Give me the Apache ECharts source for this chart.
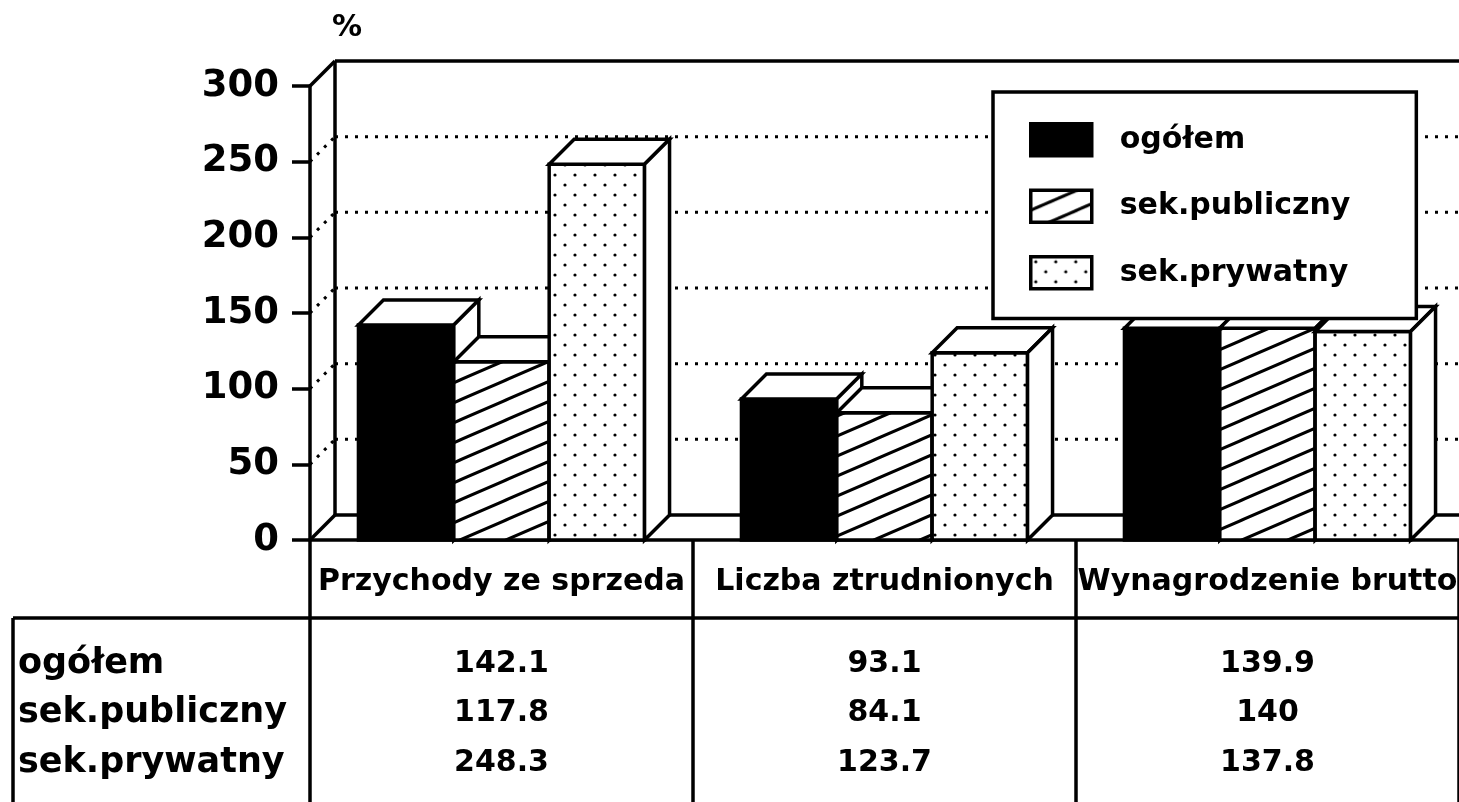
<!DOCTYPE html>
<html>
<head>
<meta charset="utf-8">
<script src="https://cdn.jsdelivr.net/npm/echarts@6/dist/echarts.min.js"></script>
<style>
html,body{margin:0;padding:0;background:#fff;}
#main{width:1459px;height:802px;}
</style>
</head>
<body>
<div id="main"></div>
<script>
// dane
var categories = ['Przychody ze sprzeda', 'Liczba ztrudnionych', 'Wynagrodzenie brutto'];
var seriesNames = ['ogółem', 'sek.publiczny', 'sek.prywatny'];
var ogolem = [142.1, 93.1, 139.9];
var publiczny = [117.8, 84.1, 140];
var prywatny = [248.3, 123.7, 137.8];
var yTicks = [0, 50, 100, 150, 200, 250, 300];

var rows = [ogolem, publiczny, prywatny];
var FONT = 'DejaVu Sans';
var DX = 25, DY = 25; // glebokosc 3D
var LW = 3.5;

function hatchCanvas(){
	var c = document.createElement('canvas');
	c.width = 46; c.height = 20;
	var g = c.getContext('2d');
	g.fillStyle = '#fff';
	g.fillRect(0, 0, 46, 20);
	g.strokeStyle = '#000';
	g.lineWidth = 3;
	for (var n = -1; n <= 1; n++) {
		g.beginPath();
		g.moveTo(-10, 20 + 20 * n + 10 * 20 / 46);
		g.lineTo(56, 20 * n - 10 * 20 / 46);
		g.stroke();
	}
	return c;
}
function dotCanvas(){
	var c = document.createElement('canvas');
	c.width = 20; c.height = 20;
	var g = c.getContext('2d');
	g.fillStyle = '#fff';
	g.fillRect(0, 0, 20, 20);
	g.fillStyle = '#000';
	g.beginPath(); g.arc(5, 5, 1.6, 0, Math.PI * 2); g.fill();
	g.beginPath(); g.arc(15, 15, 1.6, 0, Math.PI * 2); g.fill();
	return c;
}
var fills = [
	'#000',
	{type: 'pattern', image: hatchCanvas(), repeat: 'repeat'},
	{type: 'pattern', image: dotCanvas(), repeat: 'repeat'}
];

var chart = echarts.init(document.getElementById('main'));

// sciany, siatka i linie tabeli
function renderFrame(params, api){
	var v = api.value(1);
	var cs = params.coordSys;
	var x0 = cs.x, x1 = cs.x + cs.width;
	var y = api.coord([0, v])[1];
	var solid = {stroke: '#000', lineWidth: LW, fill: null};
	var dotted = {stroke: '#000', lineWidth: 3, lineDash: [3, 7], fill: null};
	var kids = [];
	var isEdge = (v === yTicks[0] || v === yTicks[yTicks.length - 1]);
	kids.push({type: 'line', shape: {x1: x0 + DX, y1: y - DY, x2: x1, y2: y - DY}, style: isEdge ? solid : dotted});
	kids.push({type: 'line', shape: {x1: x0, y1: y, x2: x0 + DX, y2: y - DY}, style: isEdge ? solid : dotted});
	if (params.dataIndex === 0) {
		var yTop = api.coord([0, yTicks[yTicks.length - 1]])[1];
		kids.push({type: 'line', shape: {x1: x0 + DX, y1: y - DY, x2: x0 + DX, y2: yTop - DY}, style: solid});
		// tabela
		var band = api.size([1, 0])[0];
		var yRow = 618, yBot = 802, xLeft = 13;
		kids.push({type: 'line', shape: {x1: xLeft, y1: yRow, x2: x1, y2: yRow}, style: solid});
		kids.push({type: 'line', shape: {x1: xLeft, y1: yRow, x2: xLeft, y2: yBot}, style: solid});
		kids.push({type: 'line', shape: {x1: x0, y1: y, x2: x0, y2: yBot}, style: solid});
		for (var i = 0; i < categories.length; i++) {
			var xr = api.coord([i, 0])[0] + band / 2;
			kids.push({type: 'line', shape: {x1: xr, y1: y, x2: xr, y2: yBot}, style: solid});
		}
	}
	return {type: 'group', children: kids};
}

function makeBarRenderer(s){
	return function(params, api){
		var i = api.value(0), v = api.value(1);
		var top = api.coord([i, v]);
		var base = api.coord([i, 0]);
		var band = api.size([1, 0])[0];
		var bw = band * 0.249;
		var xl = top[0] - bw * 1.5 + s * bw;
		var xr = xl + bw;
		var t = top[1], b = base[1];
		var face = {stroke: '#000', lineWidth: LW, fill: '#fff', lineJoin: 'miter'};
		return {
			type: 'group',
			children: [
				{type: 'rect', shape: {x: xl, y: t, width: bw, height: b - t},
					style: {fill: fills[s], stroke: '#000', lineWidth: LW}},
				{type: 'polygon', shape: {points: [[xl, t], [xr, t], [xr + DX, t - DY], [xl + DX, t - DY]]}, style: face},
				{type: 'polygon', shape: {points: [[xr, t], [xr + DX, t - DY], [xr + DX, b - DY], [xr, b]]}, style: face}
			]
		};
	};
}

var series = [{
	type: 'custom',
	name: 'frame',
	renderItem: renderFrame,
	data: yTicks.map(function(v){ return [0, v]; }),
	encode: {x: 0, y: 1},
	silent: true
}];
for (var s = 0; s < 3; s++) {
	series.push({
		type: 'custom',
		name: seriesNames[s],
		renderItem: makeBarRenderer(s),
		itemStyle: {color: fills[s]},
		data: rows[s].map(function(v, i){ return [i, v]; }),
		encode: {x: 0, y: 1}
	});
}

var xAxes = [{
	type: 'category',
	data: categories,
	position: 'bottom',
	axisLine: {lineStyle: {color: '#000', width: LW}},
	axisTick: {alignWithLabel: true, length: 15, lineStyle: {color: '#000', width: LW}},
	axisLabel: {interval: 0, margin: 27, color: '#000', fontFamily: FONT, fontWeight: 'bold', fontSize: 30, lineHeight: 30},
	splitLine: {show: false}
}];
var rowCenters = [664, 713, 763];
for (var k = 0; k < 3; k++) {
	(function(k){
		xAxes.push({
			type: 'category',
			data: categories,
			position: 'bottom',
			offset: rowCenters[k] - 540,
			axisLine: {show: false},
			axisTick: {show: false},
			axisLabel: {interval: 0, margin: 0, verticalAlign: 'middle', color: '#000', fontFamily: FONT, fontWeight: 'bold', fontSize: 30,
				formatter: function(val, idx){ return String(rows[k][idx]); }},
			name: seriesNames[k],
			nameLocation: 'start',
			nameGap: 292,
			nameTextStyle: {align: 'left', verticalAlign: 'middle', color: '#000', fontFamily: FONT, fontWeight: 'bold', fontSize: 35}
		});
	})(k);
}

var option = {
	backgroundColor: '#fff',
	animation: false,
	grid: {left: 310, right: 0, top: 86, bottom: 262, containLabel: false, outerBoundsMode: 'none'},
	legend: {
		orient: 'vertical',
		left: 993,
		top: 92,
		icon: 'rect',
		itemWidth: 61,
		itemHeight: 32,
		itemGap: 31,
		padding: [30, 66, 28, 36],
		backgroundColor: '#fff',
		borderColor: '#000',
		borderWidth: LW,
		selectedMode: false,
		textStyle: {color: '#000', fontFamily: FONT, fontWeight: 'bold', fontSize: 30, lineHeight: 32, padding: [0, 0, 0, 23]},
		data: seriesNames.map(function(n, k){
			return {name: n, itemStyle: {color: fills[k], borderColor: '#000', borderWidth: LW}};
		})
	},
	xAxis: xAxes,
	yAxis: {
		type: 'value',
		min: 0,
		max: 300,
		interval: 50,
		name: '%',
		nameLocation: 'end',
		nameGap: 58,
		nameTextStyle: {align: 'left', verticalAlign: 'middle', padding: [0, 0, 0, 22], color: '#000', fontFamily: FONT, fontWeight: 'bold', fontSize: 30},
		axisLine: {show: true, lineStyle: {color: '#000', width: LW}},
		axisTick: {show: true, length: 18, lineStyle: {color: '#000', width: LW}},
		axisLabel: {margin: 31, color: '#000', fontFamily: FONT, fontWeight: 'bold', fontSize: 37},
		splitLine: {show: false}
	},
	series: series
};
chart.setOption(option);
</script>
</body>
</html>
